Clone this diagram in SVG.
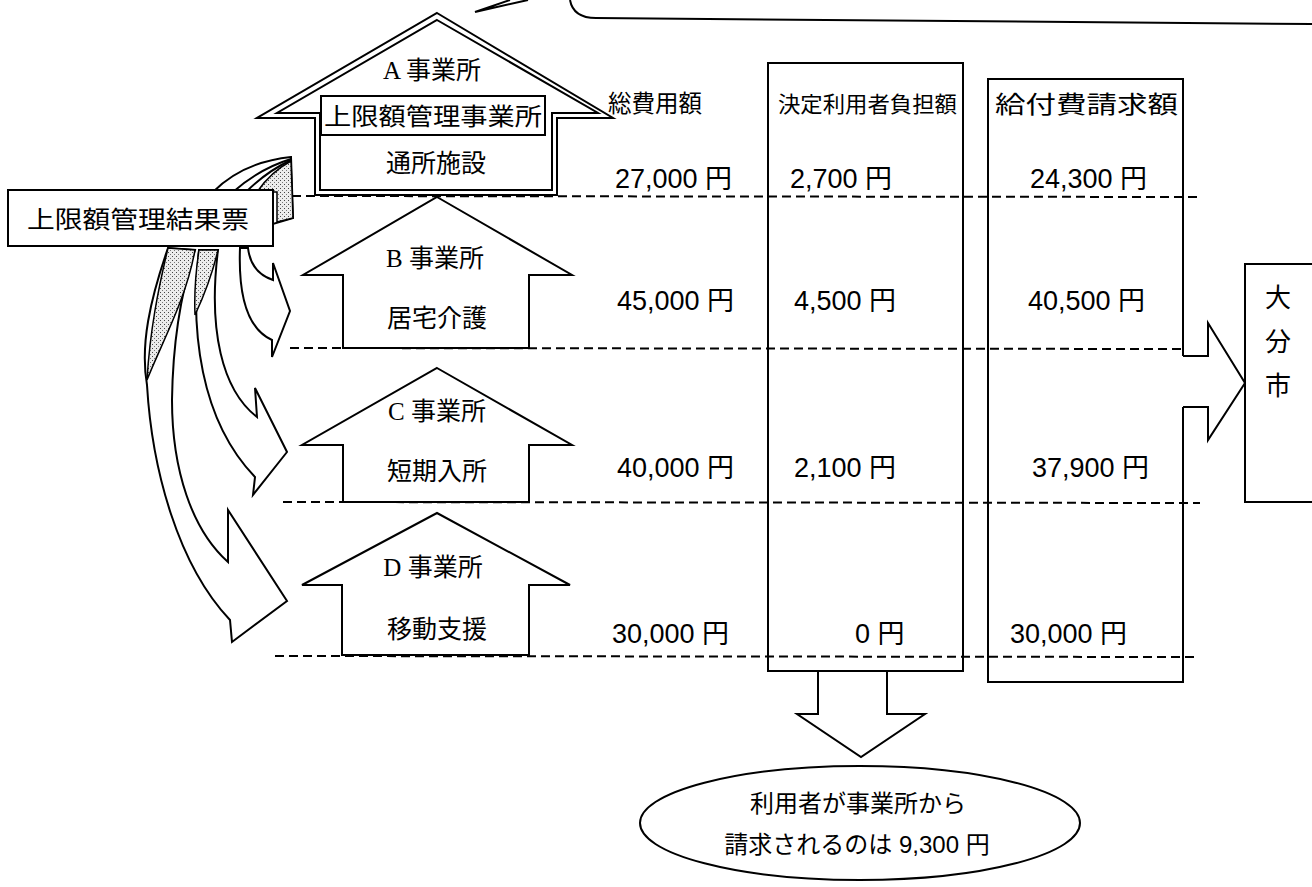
<svg xmlns="http://www.w3.org/2000/svg" width="1312" height="887" viewBox="0 0 1312 887">
<defs>
<pattern id="stip" width="4" height="4" patternUnits="userSpaceOnUse">
<rect width="4" height="4" fill="#ececec"/>
<rect x="0" y="0" width="1" height="1" fill="#444"/>
<rect x="2" y="2" width="1" height="1" fill="#777"/>
</pattern>
<style>
.ln{fill:none;stroke:#000;stroke-width:2}
.wf{fill:#fff;stroke:#000;stroke-width:2;stroke-linejoin:miter}
.dash{fill:none;stroke:#000;stroke-width:2;stroke-dasharray:9 5}
.st{fill:url(#stip);stroke:#000;stroke-width:1.5}
.hs{font-family:"Liberation Serif","Noto Sans CJK JP",serif;font-size:25px;fill:#000;text-anchor:middle}
.hs2{font-family:"Noto Sans CJK JP",sans-serif;font-size:25px;fill:#000;text-anchor:middle}
.g{font-family:"Liberation Sans","Noto Sans CJK JP",sans-serif;fill:#000}
.v{font-family:"Liberation Sans","Noto Sans CJK JP",sans-serif;font-size:27px;fill:#000}
</style>
</defs>
<rect width="1312" height="887" fill="#fff"/>

<g id="callout">
<path class="ln" d="M570,0 C572,11 580,18 596,18 L1312,24"/>
<polyline class="ln" points="510,0 475,12 528,0"/>
</g>

<g id="connectors">
<line class="dash" x1="292" y1="196" x2="1200" y2="197"/>
<line class="dash" x1="290" y1="348" x2="1183" y2="349"/>
<line class="dash" x1="283" y1="502" x2="1200" y2="503"/>
<line class="dash" x1="275" y1="656" x2="1196" y2="657"/>
<path class="wf" d="M213,192 C235,170 262,160 291,157 L293,218 L273,224 L273,192 Z"/>
<path class="st" d="M257,192 C266,179 278,168 291,161 L293,218 L277,222 L277,192 Z"/>
<path class="ln" stroke-width="1.5" d="M233,192 C250,177 268,166 291,159"/>
<path class="ln" stroke-width="1.5" d="M246,192 C258,180 272,169 291,160"/>
<path class="wf" d="M168,248 C150,300 140,345 147,385 C152,470 178,565 230,620 L232,642 L287,601 L228,510 L228,562 C192,530 172,470 172,400 C173,330 185,280 195,250 Z"/>
<path class="st" d="M168,248 L195,250 C186,300 162,342 147,380 C150,330 158,290 168,248 Z"/>
<path class="wf" d="M199,250 C190,330 200,420 255,477 L253,495 L287,452 L255,388 L257,417 C222,390 208,330 218,250 Z"/>
<path class="st" d="M199,250 L218,250 C211,280 202,300 195,315 C194,292 196,270 199,250 Z"/>
<path class="wf" d="M240,248 C238,300 250,330 272,340 L272,357 L290,311 L273,263 L273,280 C258,275 250,265 248,248 Z"/>
<path class="ln" d="M818,671 L818,714 L797,714 L861,757 L925,714 L887,714 L887,671"/>
<path class="ln" d="M1183,356 L1208,356 L1208,323 L1245,383 L1208,440 L1208,407 L1183,407"/>
</g>

<g id="result-slip">
<rect class="wf" x="8" y="190" width="265" height="56"/>
<text class="g" x="27" y="228" font-size="24" textLength="222" lengthAdjust="spacingAndGlyphs">上限額管理結果票</text>
</g>

<g id="office-a">
<path class="wf" stroke-width="2.5" d="M437,13 L613,118 L557,118 L557,195 L315,195 L315,118 L257,118 Z"/>
<path class="ln" stroke-width="2.5" d="M437,20 L598,113 L552,113 L552,190 L320,190 L320,113 L277,113 Z"/>
<rect class="wf" stroke-width="1.5" x="321" y="96" width="224" height="39"/>
<text class="hs" x="432" y="79">A 事業所</text>
<text class="g" x="324" y="125" font-size="24" textLength="218" lengthAdjust="spacingAndGlyphs">上限額管理事業所</text>
<text class="hs2" x="436" y="172">通所施設</text>
</g>

<g id="office-b">
<path class="wf" d="M437,197 L572,275 L529,275 L529,348 L343,348 L343,275 L303,275 Z"/>
<text class="hs" x="435" y="267">B 事業所</text>
<text class="hs2" x="437" y="327">居宅介護</text>
</g>

<g id="office-c">
<path class="wf" d="M437,368 L572,445 L529,445 L529,502 L343,502 L343,445 L302,445 Z"/>
<text class="hs" x="437" y="420">C 事業所</text>
<text class="hs2" x="437" y="480">短期入所</text>
</g>

<g id="office-d">
<path class="wf" d="M437,513 L570,585 L529,585 L529,655 L342,655 L342,585 L302,585 Z"/>
<text class="hs" x="433" y="576">D 事業所</text>
<text class="hs2" x="437" y="638">移動支援</text>
</g>

<g id="total-cost">
<text class="g" x="608" y="112" font-size="24" textLength="94" lengthAdjust="spacingAndGlyphs">総費用額</text>
<text class="v" x="615" y="188">27,000 円</text>
<text class="v" x="617" y="310">45,000 円</text>
<text class="v" x="617" y="477">40,000 円</text>
<text class="v" x="612" y="643">30,000 円</text>
</g>

<g id="user-burden">
<path class="ln" d="M768,63 L963,63 L963,671 L768,671 Z"/>
<text class="g" x="778" y="112" font-size="22" textLength="179" lengthAdjust="spacingAndGlyphs">決定利用者負担額</text>
<text class="v" x="790" y="188">2,700 円</text>
<text class="v" x="794" y="310">4,500 円</text>
<text class="v" x="794" y="477">2,100 円</text>
<text class="v" x="855" y="643">0 円</text>
</g>

<g id="benefit-claim">
<path class="ln" d="M1183,356 L1183,79 L988,79 L988,682 L1183,682 L1183,407"/>
<text class="g" x="995" y="113" font-size="24" textLength="183" lengthAdjust="spacingAndGlyphs">給付費請求額</text>
<text class="v" x="1030" y="188">24,300 円</text>
<text class="v" x="1028" y="310">40,500 円</text>
<text class="v" x="1032" y="477">37,900 円</text>
<text class="v" x="1010" y="643">30,000 円</text>
</g>

<g id="oita-city">
<path class="ln" d="M1312,264 L1245,264 L1245,502 L1312,502"/>
<text class="g" x="1278" y="307" font-size="26" text-anchor="middle">大</text>
<text class="g" x="1278" y="351" font-size="26" text-anchor="middle">分</text>
<text class="g" x="1278" y="395" font-size="26" text-anchor="middle">市</text>
</g>

<g id="user-total">
<ellipse class="wf" cx="860" cy="823" rx="220" ry="57"/>
<text class="g" x="858" y="812" font-size="24" text-anchor="middle">利用者が事業所から</text>
<text class="g" x="857" y="853" font-size="24" text-anchor="middle">請求されるのは 9,300 円</text>
</g>
</svg>
